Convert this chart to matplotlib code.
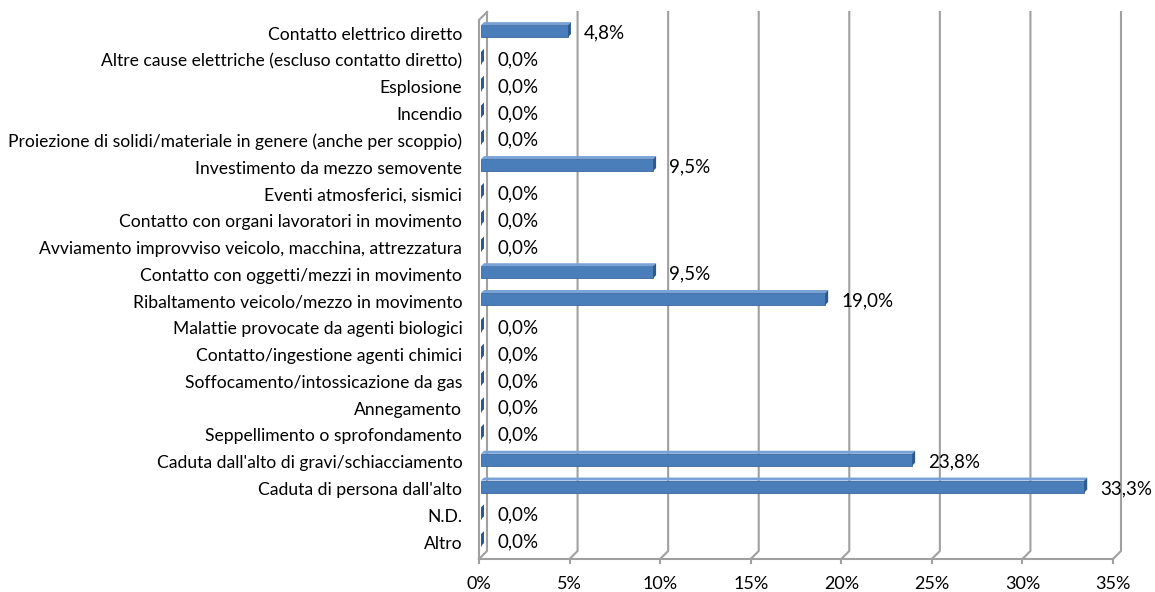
import matplotlib
matplotlib.use('Agg')
from matplotlib import pyplot as plt
from matplotlib.patches import Rectangle, Polygon

# categories from top to bottom, with percent values
categories = [
    'Contatto elettrico diretto',
    'Altre cause elettriche (escluso contatto diretto)',
    'Esplosione',
    'Incendio',
    'Proiezione di solidi/materiale in genere (anche per scoppio)',
    'Investimento da mezzo semovente',
    'Eventi atmosferici, sismici',
    'Contatto con organi lavoratori in movimento',
    'Avviamento improvviso veicolo, macchina, attrezzatura',
    'Contatto con oggetti/mezzi in movimento',
    'Ribaltamento veicolo/mezzo in movimento',
    'Malattie provocate da agenti biologici',
    'Contatto/ingestione agenti chimici',
    'Soffocamento/intossicazione da gas',
    'Annegamento',
    'Seppellimento o sprofondamento',
    "Caduta dall'alto di gravi/schiacciamento",
    "Caduta di persona dall'alto",
    'N.D.',
    'Altro',
]
values = [4.8, 0.0, 0.0, 0.0, 0.0, 9.5, 0.0, 0.0, 0.0, 9.5,
          19.0, 0.0, 0.0, 0.0, 0.0, 0.0, 23.8, 33.3, 0.0, 0.0]
x_ticks = [0, 5, 10, 15, 20, 25, 30, 35]

plt.rcParams['font.family'] = ['Lato', 'DejaVu Sans']

fig = plt.figure(figsize=(11.55, 5.92), dpi=100)
ax = fig.add_axes([479 / 1155, 33 / 592, 634 / 1155, 539 / 592])

n = len(categories)
ypos = list(range(n - 1, -1, -1))
y_lo, y_hi = -0.63, n - 0.51
ax.set_xlim(0, 35)
ax.set_ylim(y_lo, y_hi)

# pixel -> data conversion helpers
px_x = 35 / 634
px_y = (y_hi - y_lo) / 539
dx, dy = 8 * px_x, 8 * px_y          # depth of the 3d box
grid_col = '#a0a0a0'

# back-wall gridlines with slanted floor piece
for t in x_ticks:
    ax.plot([t, t + dx, t + dx], [y_lo, y_lo + dy, y_hi + dy],
            color=grid_col, lw=1.5, clip_on=False, zorder=1)
    ax.plot([t, t], [y_lo, y_lo - 4 * px_y], color=grid_col, lw=1.5,
            clip_on=False, zorder=1)
# left wall
ax.plot([0, 0, dx], [y_lo, y_hi, y_hi + dy], color=grid_col, lw=1.5,
        clip_on=False, zorder=1)
# front floor edge
ax.plot([0, 35], [y_lo, y_lo], color=grid_col, lw=1.5, clip_on=False, zorder=1)

# 3d bars
bh = 12 * px_y
ox, oy = 2 * px_x, 2 * px_y
sx, sy = 3 * px_x, 3 * px_y
for y, v in zip(ypos, values):
    x0 = ox
    yb = y - bh / 2 + oy
    yt = yb + bh
    ax.add_patch(Rectangle((x0, yb), v, bh, facecolor='#4a7ebb',
                           edgecolor='#3a679c', lw=0.6, zorder=3, clip_on=False))
    ax.add_patch(Polygon([(x0, yt), (x0 + sx, yt + sy), (x0 + v + sx, yt + sy), (x0 + v, yt)],
                         closed=True, facecolor='#79a2d6', edgecolor='none',
                         zorder=3, clip_on=False))
    ax.add_patch(Polygon([(x0 + v, yb), (x0 + v + sx, yb + sy), (x0 + v + sx, yt + sy), (x0 + v, yt)],
                         closed=True, facecolor='#2c5a8f', edgecolor='none',
                         zorder=4, clip_on=False))
    label = f'{v:.1f}'.replace('.', ',') + '%'
    ax.annotate(label, (v, y), xytext=(13, 0), textcoords='offset points',
                ha='left', va='center', fontsize=13.5, color='black', zorder=5)

for s in ax.spines.values():
    s.set_visible(False)

ax.set_yticks(ypos)
ax.set_yticklabels(categories, fontsize=12.6)
ax.tick_params(axis='y', length=0, pad=12)
ax.set_xticks(x_ticks)
ax.set_xticklabels([f'{t}%' for t in x_ticks], fontsize=13)
ax.tick_params(axis='x', length=0, pad=12)

plt.savefig('out.png', dpi=100)
